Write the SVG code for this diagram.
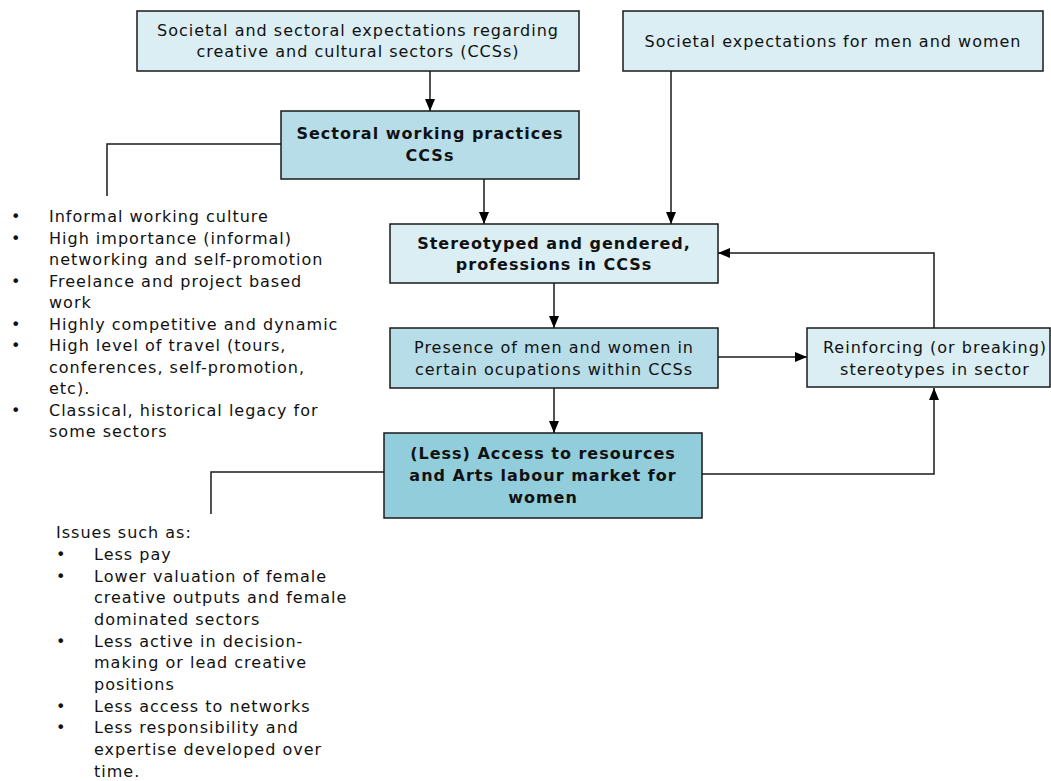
<svg xmlns="http://www.w3.org/2000/svg" width="1051" height="781" viewBox="0 0 1051 781">
<defs>
<marker id="ah" viewBox="0 0 12 12" refX="12" refY="6" markerWidth="12" markerHeight="12" markerUnits="userSpaceOnUse" orient="auto">
<path d="M0,1 L12,6 L0,11 Z" fill="#000"/>
</marker>
<style>
.box{stroke:#1a1a1a;stroke-width:1.5}
.l1{fill:#DAEEF3}.l2{fill:#B7DDE8}.l3{fill:#92CDDC}
text{font-family:"DejaVu Sans",Verdana,sans-serif;font-size:16px;letter-spacing:1px;fill:#111}
.c{text-anchor:middle}
.b{font-weight:bold;letter-spacing:1px}
.con{stroke:#1a1a1a;stroke-width:1.5;fill:none}
.arr{marker-end:url(#ah)}
.bul{font-size:16px;letter-spacing:0}
</style>
</defs>
<rect width="1051" height="781" fill="#fff"/>
<g id="connectors">
<path class="con arr" d="M430,71 V111"/>
<path class="con arr" d="M671,71 V224"/>
<path class="con arr" d="M484,179 V224"/>
<path class="con arr" d="M554,283 V328"/>
<path class="con arr" d="M554,388 V433"/>
<path class="con arr" d="M718,357 H807"/>
<path class="con arr" d="M934,328 V253 H718"/>
<path class="con arr" d="M702,474 H934 V388"/>
<path class="con" d="M281,144 H107 V196"/>
<path class="con" d="M384,472 H211 V514"/>
</g>
<g id="n1">
<rect class="box l1" x="137" y="11" width="442" height="60"/>
<text class="c" x="358" y="36">Societal and sectoral expectations regarding</text>
<text class="c" x="358" y="57">creative and cultural sectors (CCSs)</text>
</g>
<g id="n2">
<rect class="box l1" x="623" y="11" width="420" height="60"/>
<text class="c" x="833" y="47">Societal expectations for men and women</text>
</g>
<g id="n3">
<rect class="box l2" x="281" y="111" width="298" height="68"/>
<text class="c b" x="430" y="139">Sectoral working practices</text>
<text class="c b" x="430" y="161">CCSs</text>
</g>
<g id="n4">
<rect class="box l1" x="390" y="224" width="328" height="59"/>
<text class="c b" x="554" y="249">Stereotyped and gendered,</text>
<text class="c b" x="554" y="270">professions in CCSs</text>
</g>
<g id="n5">
<rect class="box l2" x="390" y="328" width="328" height="60"/>
<text class="c" x="554" y="353">Presence of men and women in</text>
<text class="c" x="554" y="375">certain ocupations within CCSs</text>
</g>
<g id="n6">
<rect class="box l1" x="807" y="328" width="243" height="59"/>
<text class="c" x="935" y="353">Reinforcing (or breaking)</text>
<text class="c" x="935" y="375">stereotypes in sector</text>
</g>
<g id="n7">
<rect class="box l3" x="384" y="433" width="318" height="85"/>
<text class="c b" x="543" y="459">(Less) Access to resources</text>
<text class="c b" x="543" y="481">and Arts labour market for</text>
<text class="c b" x="543" y="503">women</text>
</g>
<g id="list1">
<text class="bul" x="11" y="222">•</text><text x="49" y="222">Informal working culture</text>
<text class="bul" x="11" y="244">•</text><text x="49" y="244">High importance (informal)</text>
<text x="49" y="265">networking and self-promotion</text>
<text class="bul" x="11" y="287">•</text><text x="49" y="287">Freelance and project based</text>
<text x="49" y="308">work</text>
<text class="bul" x="11" y="330">•</text><text x="49" y="330">Highly competitive and dynamic</text>
<text class="bul" x="11" y="351">•</text><text x="49" y="351">High level of travel (tours,</text>
<text x="49" y="373">conferences, self-promotion,</text>
<text x="49" y="394">etc).</text>
<text class="bul" x="11" y="416">•</text><text x="49" y="416">Classical, historical legacy for</text>
<text x="49" y="437">some sectors</text>
</g>
<g id="list2">
<text x="56" y="538">Issues such as:</text>
<text class="bul" x="56" y="560">•</text><text x="94" y="560">Less pay</text>
<text class="bul" x="56" y="582">•</text><text x="94" y="582">Lower valuation of female</text>
<text x="94" y="603">creative outputs and female</text>
<text x="94" y="625">dominated sectors</text>
<text class="bul" x="56" y="647">•</text><text x="94" y="647">Less active in decision-</text>
<text x="94" y="668">making or lead creative</text>
<text x="94" y="690">positions</text>
<text class="bul" x="56" y="712">•</text><text x="94" y="712">Less access to networks</text>
<text class="bul" x="56" y="733">•</text><text x="94" y="733">Less responsibility and</text>
<text x="94" y="755">expertise developed over</text>
<text x="94" y="777">time.</text>
</g>
</svg>
